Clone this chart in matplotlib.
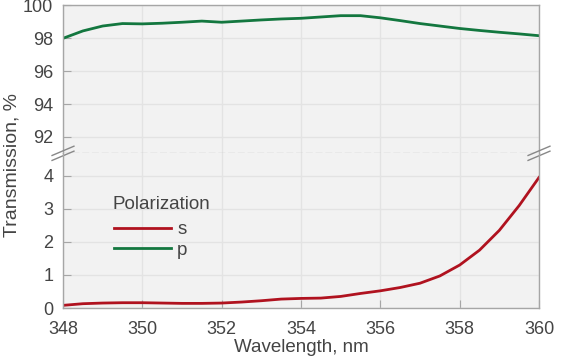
import numpy as np
import matplotlib
matplotlib.use("Agg")
import matplotlib.pyplot as plt

plt.rcParams['font.family'] = ['Liberation Sans', 'DejaVu Sans']

# data
wavelength = [348, 348.5, 349, 349.5, 350, 350.5, 351, 351.5, 352, 352.5, 353, 353.5,
              354, 354.5, 355, 355.5, 356, 356.5, 357, 357.5, 358, 358.5, 359, 359.5, 360]
t_s = [0.08, 0.13, 0.15, 0.16, 0.16, 0.15, 0.14, 0.14, 0.15, 0.18, 0.22, 0.27,
       0.29, 0.30, 0.35, 0.44, 0.52, 0.62, 0.75, 0.97, 1.30, 1.75, 2.35, 3.10, 3.95]
t_p = [98.0, 98.45, 98.75, 98.9, 98.88, 98.92, 98.98, 99.05, 98.98, 99.05, 99.12, 99.18,
       99.22, 99.3, 99.38, 99.38, 99.25, 99.08, 98.9, 98.75, 98.6, 98.48, 98.37, 98.27, 98.16]
xticks = [348, 350, 352, 354, 356, 358, 360]
upper_ticks = [92, 94, 96, 98, 100]
lower_ticks = [0, 1, 2, 3, 4]

red = '#b0121f'
green = '#13773f'
text_col = '#444444'
spine_col = '#a6a6a6'
grid_col = '#e3e3e3'
bg = '#f2f2f2'

fig = plt.figure(figsize=(5.64, 3.61), dpi=100)
left, right = 0.1117, 0.9557
bottom, brk, top = 0.1468, 0.5753, 0.9848
ax_top = fig.add_axes([left, brk, right - left, top - brk])
ax_bot = fig.add_axes([left, bottom, right - left, brk - bottom], sharex=ax_top)

for ax in (ax_top, ax_bot):
    ax.set_facecolor(bg)
    ax.grid(True, color=grid_col, linewidth=1)
    ax.set_axisbelow(True)
    for sp in ax.spines.values():
        sp.set_color(spine_col)
        sp.set_linewidth(1)
    ax.tick_params(direction='in', length=6, color=spine_col, labelsize=13,
                   labelcolor=text_col, pad=7)
ax_bot.tick_params(axis='x', pad=9)

ax_top.plot(wavelength, t_p, color=green, linewidth=2)
ax_bot.plot(wavelength, t_s, color=red, linewidth=2, label='s')
ax_bot.plot([], [], color=green, linewidth=2, label='p')

ax_top.set_ylim(91.0, 100)
ax_top.set_yticks(upper_ticks)
ax_bot.set_ylim(0, 4.68)
ax_bot.set_yticks(lower_ticks)
ax_bot.set_xlim(348, 360)
ax_bot.set_xticks(xticks)
ax_top.tick_params(axis='x', bottom=False, labelbottom=False)

# dashed break line
ax_top.spines['bottom'].set_linestyle((0, (4, 3)))
ax_top.spines['bottom'].set_color('#c8c8c8')
ax_bot.spines['top'].set_visible(False)

# break marks on both spines
dx, dy, off = 0.023, 0.03, 0.016
for xc in (0, 1):
    for yo in (-off, off):
        ax_bot.plot([xc - dx, xc + dx], [1 + yo - dy, 1 + yo + dy], transform=ax_bot.transAxes,
                    color='#888888', linewidth=1, clip_on=False)

ax_bot.set_xlabel('Wavelength, nm', fontsize=13.5, color=text_col, labelpad=1)
fig.text(0.021, 0.543, 'Transmission, %', rotation=90, fontsize=14,
         color=text_col, ha='center', va='center')

# legend: title drawn as text, entries below it
ax_bot.text(0.105, 0.671, 'Polarization', transform=ax_bot.transAxes, fontsize=13.5,
            color=text_col, ha='left', va='center')
leg = ax_bot.legend(loc='center left', bbox_to_anchor=(0.088, 0.439),
                    frameon=False, fontsize=13.5, borderpad=0,
                    handlelength=3.0, handletextpad=0.35, labelspacing=0.18)
for t in leg.get_texts():
    t.set_color(text_col)

fig.savefig('out.png', dpi=100)
